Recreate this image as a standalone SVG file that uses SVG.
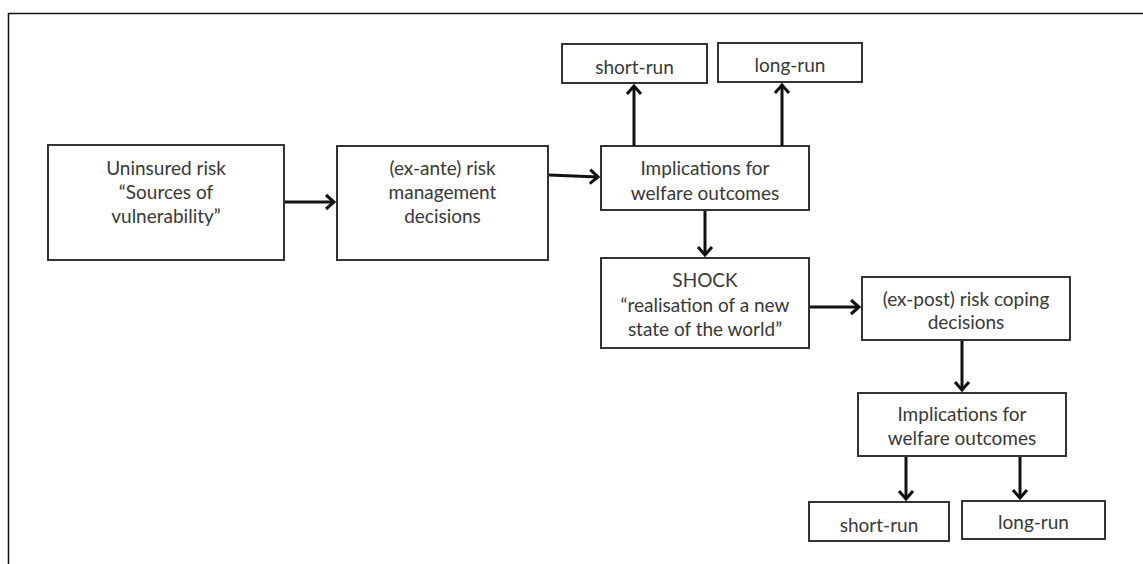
<svg xmlns="http://www.w3.org/2000/svg" width="1143" height="564" viewBox="0 0 1143 564">
  <defs>
    <marker id="head" markerUnits="userSpaceOnUse" markerWidth="20" markerHeight="20" viewBox="-12 -10 14 20" refX="0" refY="0" orient="auto">
      <path d="M-8,-7 L0,0 L-8,7" fill="none" stroke="#111" stroke-width="3" stroke-linejoin="miter"/>
    </marker>
    <style>
      .box { fill: #fff; stroke: #333; stroke-width: 2; }
      .lbl { font-family: Lato, "Open Sans", "Liberation Sans", sans-serif; font-size: 19px; fill: #383838; text-anchor: middle; }
      .arrow { fill: none; stroke: #111; stroke-width: 3; marker-end: url(#head); }
      .frame { fill: none; stroke: #111; stroke-width: 1.5; }
    </style>
  </defs>

  <rect width="1143" height="564" fill="#fff"/>
  <!-- outer frame -->
  <path class="frame" d="M8.5,564 V13.5 H1143"/>

  <g id="uninsured-risk">
    <rect class="box" x="48" y="145" width="236" height="115"/>
    <text class="lbl" x="166" y="175">Uninsured risk</text>
    <text class="lbl" x="166" y="199">“Sources of</text>
    <text class="lbl" x="166" y="223">vulnerability”</text>
  </g>

  <g id="ex-ante">
    <rect class="box" x="337" y="146" width="211" height="114"/>
    <text class="lbl" x="442.5" y="175">(ex-ante) risk</text>
    <text class="lbl" x="442.5" y="199">management</text>
    <text class="lbl" x="442.5" y="223">decisions</text>
  </g>

  <g id="implications-1">
    <rect class="box" x="601" y="146" width="208" height="64"/>
    <text class="lbl" x="705" y="175">Implications for</text>
    <text class="lbl" x="705" y="200">welfare outcomes</text>
  </g>

  <g id="short-run-1">
    <rect class="box" x="562" y="44" width="145" height="39"/>
    <text class="lbl" x="634.5" y="74">short-run</text>
  </g>

  <g id="long-run-1">
    <rect class="box" x="718" y="43" width="144" height="39"/>
    <text class="lbl" x="790" y="72">long-run</text>
  </g>

  <g id="shock">
    <rect class="box" x="601" y="258" width="208" height="90"/>
    <text class="lbl" x="705" y="287">SHOCK</text>
    <text class="lbl" x="705" y="312">“realisation of a new</text>
    <text class="lbl" x="705" y="336">state of the world”</text>
  </g>

  <g id="ex-post">
    <rect class="box" x="862" y="277" width="208" height="63"/>
    <text class="lbl" x="966" y="306">(ex-post) risk coping</text>
    <text class="lbl" x="966" y="329">decisions</text>
  </g>

  <g id="implications-2">
    <rect class="box" x="858" y="393" width="208" height="63"/>
    <text class="lbl" x="962" y="421">Implications for</text>
    <text class="lbl" x="962" y="445">welfare outcomes</text>
  </g>

  <g id="short-run-2">
    <rect class="box" x="809" y="502" width="140" height="39"/>
    <text class="lbl" x="879" y="532">short-run</text>
  </g>

  <g id="long-run-2">
    <rect class="box" x="962" y="501" width="143" height="38"/>
    <text class="lbl" x="1033.5" y="529">long-run</text>
  </g>

  <g id="connectors">
    <line class="arrow" x1="285" y1="202" x2="334" y2="202"/>
    <line class="arrow" x1="549" y1="175" x2="598" y2="177"/>
    <line class="arrow" x1="634" y1="146" x2="634" y2="86"/>
    <line class="arrow" x1="782" y1="146" x2="782" y2="85"/>
    <line class="arrow" x1="705" y1="211" x2="705" y2="255"/>
    <line class="arrow" x1="810" y1="307" x2="859" y2="307"/>
    <line class="arrow" x1="962" y1="341" x2="962" y2="390"/>
    <line class="arrow" x1="906" y1="457" x2="906" y2="499"/>
    <line class="arrow" x1="1020" y1="457" x2="1020" y2="498"/>
  </g>
</svg>
